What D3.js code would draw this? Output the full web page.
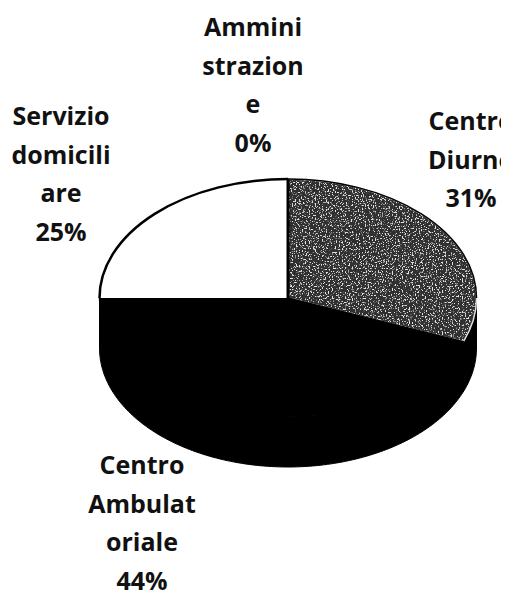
<!DOCTYPE html>
<html>
<head>
<meta charset="utf-8">
<script src="https://cdn.jsdelivr.net/npm/d3@7"></script>
<style>
html, body { margin: 0; background: #fff; }
svg { display: block; }
text { font-family: "Open Sans", sans-serif; font-weight: 700; font-size: 25px; fill: #111; text-anchor: middle; }
</style>
</head>
<body>
<svg></svg>
<script>
// values, clockwise from 12 o'clock
var categories = ['Centro Diurno', 'Centro Ambulatoriale', 'Servizio domiciliare', 'Amministrazione'];
var shares = [31, 44, 25, 0];
var sliceColors = ['url(#speckle)', '#000', '#fff', '#fff'];
var labelLines = [
	['Centro', 'Diurno', '31%'],
	['Centro', 'Ambulat', 'oriale', '44%'],
	['Servizio', 'domicili', 'are', '25%'],
	['Ammini', 'strazion', 'e', '0%']
];

var width = 505;
var height = 594;
var cx = 288;
var cy = 298;
var rx = 188.5;
var ry = 119;
var depth = 50;
var lineHeight = 38.5;
var labelPos = [[471, 130], [142, 474], [61, 125], [253, 36]];

var svg = d3.select('svg').attr('width', width).attr('height', height);
var defs = svg.append('defs');

defs.append('clipPath').attr('id', 'page')
	.append('rect').attr('width', 501).attr('height', height);

// scanned halftone look of the grey slice
var noise = defs.append('filter').attr('id', 'grain')
	.attr('x', 0).attr('y', 0).attr('width', 1).attr('height', 1);
noise.append('feTurbulence')
	.attr('type', 'fractalNoise').attr('baseFrequency', 0.7).attr('numOctaves', 2).attr('seed', 4);
noise.append('feColorMatrix')
	.attr('values', '0 0 0 0 0.75  0 0 0 0 0.75  0 0 0 0 0.75  9 0 0 0 -5');

// the slice sits in the scaled group, so undo that scale for the tile
var pattern = defs.append('pattern').attr('id', 'speckle')
	.attr('patternUnits', 'userSpaceOnUse')
	.attr('patternTransform', 'scale(' + (1 / rx) + ',' + (1 / ry) + ')')
	.attr('width', 200).attr('height', 240)
	.attr('y', -120);
pattern.append('rect').attr('width', 200).attr('height', 240).attr('fill', '#303030');
pattern.append('rect').attr('width', 200).attr('height', 240).attr('filter', 'url(#grain)');

var pie = d3.pie().value(function(d) { return d; }).sort(null);
var arc = d3.arc().innerRadius(0).outerRadius(1);
var arcs = pie(shares);

var yScale = d3.scaleLinear().domain([-1, 1]).range([cy - ry, cy + ry]);
var xScale = d3.scaleLinear().domain([-1, 1]).range([cx - rx, cx + rx]);

// side wall, lower half of the ellipse pushed down by the depth
var wall = d3.area()
	.x(function(a) { return xScale(Math.cos(a)); })
	.y0(function(a) { return yScale(Math.sin(a)); })
	.y1(function(a) { return yScale(Math.sin(a)) + depth; });

svg.append('path')
	.datum(d3.range(0, Math.PI + 0.01, 0.02))
	.attr('d', wall)
	.attr('fill', '#000')
	.attr('stroke', '#000');

// top face
var face = svg.append('g')
	.attr('transform', 'translate(' + cx + ',' + cy + ') scale(' + rx + ',' + ry + ')');

face.selectAll('path')
	.data(arcs)
	.enter()
	.append('path')
	.attr('d', arc)
	.attr('fill', function(d, i) { return sliceColors[i]; })
	.attr('stroke', function(d, i) { return i == 0 ? '#ddd' : i == 1 ? '#000' : 'none'; })
	.attr('stroke-width', 1.5)
	.attr('vector-effect', 'non-scaling-stroke');

// the thick outline round the upper half and the divider at 12 o'clock
var rim = d3.arc().innerRadius(1).outerRadius(1)
	.startAngle(-Math.PI / 2).endAngle(0);
face.append('path')
	.attr('d', rim())
	.attr('fill', 'none')
	.attr('stroke', '#000')
	.attr('stroke-width', 2.5)
	.attr('vector-effect', 'non-scaling-stroke');
var rimRight = d3.arc().innerRadius(1).outerRadius(1)
	.startAngle(0).endAngle(Math.PI / 2);
face.append('path')
	.attr('d', rimRight())
	.attr('fill', 'none')
	.attr('stroke', '#000')
	.attr('stroke-width', 1.5)
	.attr('vector-effect', 'non-scaling-stroke');
var divider = d3.arc().innerRadius(0).outerRadius(1).startAngle(0).endAngle(0);
face.append('path')
	.attr('d', divider())
	.attr('fill', 'none')
	.attr('stroke', '#000')
	.attr('stroke-width', 3)
	.attr('vector-effect', 'non-scaling-stroke');

// labels, the right one runs off the edge of the scan
var labels = svg.append('g').attr('clip-path', 'url(#page)')
	.selectAll('text')
	.data(labelLines)
	.enter()
	.append('text')
	.attr('transform', function(d, i) { return 'translate(' + labelPos[i] + ')'; });

labels.selectAll('tspan')
	.data(function(d) { return d; })
	.enter()
	.append('tspan')
	.attr('x', 0)
	.attr('y', function(d, i) { return i * lineHeight; })
	.text(function(d) { return d; });
</script>
</body>
</html>
